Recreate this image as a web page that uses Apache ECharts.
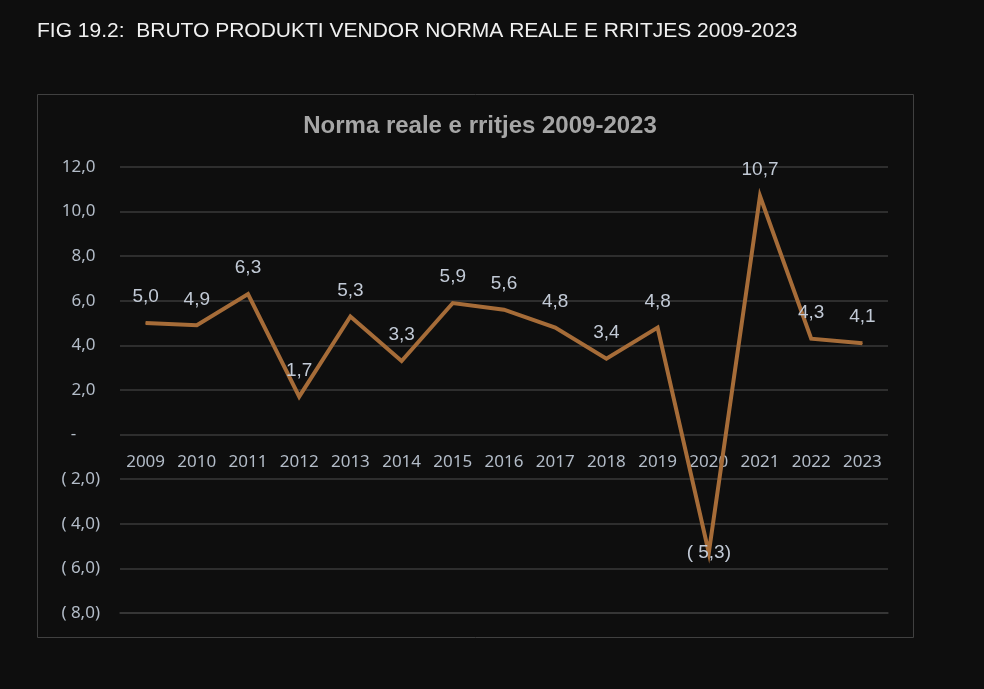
<!DOCTYPE html>
<html>
<head>
<meta charset="utf-8">
<script src="https://cdn.jsdelivr.net/npm/echarts@6/dist/echarts.min.js"></script>
<style>
  html, body { margin: 0; padding: 0; background: #0e0e0e; }
  #chart { width: 984px; height: 689px; }
</style>
</head>
<body>
<div id="chart"></div>
<script>
var years = ['2009', '2010', '2011', '2012', '2013', '2014', '2015', '2016',
  '2017', '2018', '2019', '2020', '2021', '2022', '2023'];
var growth = [5.0, 4.9, 6.3, 1.7, 5.3, 3.3, 5.9, 5.6, 4.8, 3.4, 4.8, -5.3, 10.7, 4.3, 4.1];

// accounting style: negatives in brackets, zero as a dash
function fmt(v, pad) {
  if (v === 0) return '-' + (pad ? '\u2007\u2007 ' : '');
  var s = Math.abs(v).toFixed(1).replace('.', ',');
  if (v < 0) return '( ' + s + ')';
  return s + (pad ? ' ' : '');
}

var seriesData = growth.map(function (v) {
  var item = { value: v };
  if (v < 0) {
    item.label = { position: 'inside' };
  }
  return item;
});

var chart = echarts.init(document.getElementById('chart'));
chart.setOption({
  backgroundColor: '#0e0e0e',
  animation: false,
  title: [{
    text: 'FIG 19.2:  BRUTO PRODUKTI VENDOR NORMA REALE E RRITJES 2009-2023',
    left: 32, top: 16,
    textStyle: { color: '#f0f0f0', fontFamily: 'Liberation Sans', fontSize: 21, fontWeight: 'normal' }
  }, {
    text: 'Norma reale e rritjes 2009-2023',
    left: 475, top: 109, textAlign: 'center',
    textStyle: { color: '#a6a6a6', fontFamily: 'Liberation Sans', fontSize: 24, fontWeight: 'bold' }
  }],
  graphic: [{
    type: 'rect',
    shape: { x: 37.5, y: 94.5, width: 876, height: 543 },
    style: { fill: 'none', stroke: '#404040', lineWidth: 1 },
    silent: true
  }],
  grid: { left: 120, right: 96, top: 167, bottom: 76 },
  xAxis: {
    type: 'category',
    data: years,
    boundaryGap: true,
    axisLine: { show: true, onZero: false, lineStyle: { color: '#3a3a3a', width: 1.5 } },
    axisTick: { show: false },
    // labels sit just under the zero line, as in the source chart
    axisLabel: {
      color: '#b3bcc8', fontFamily: 'Noto Sans', fontSize: 17, margin: -159
    }
  },
  yAxis: {
    type: 'value',
    min: -8, max: 12, interval: 2,
    axisLine: { show: false },
    axisTick: { show: false },
    splitLine: { lineStyle: { color: '#3a3a3a', width: 1.5 } },
    axisLabel: {
      color: '#b3bcc8', fontFamily: 'Noto Sans', fontSize: 17, margin: 20,
      formatter: function (v) { return fmt(v, true); }
    }
  },
  series: [{
    type: 'line',
    data: seriesData,
    symbol: 'circle',
    symbolSize: 1,
    itemStyle: { color: '#a66c38' },
    lineStyle: { color: '#a66c38', width: 4, cap: 'butt', join: 'miter' },
    label: {
      show: true,
      position: 'top',
      distance: 16,
      color: '#c2cad6',
      fontFamily: 'Liberation Sans',
      fontSize: 19,
      formatter: function (p) { return fmt(p.value, false); }
    }
  }]
});
</script>
</body>
</html>
